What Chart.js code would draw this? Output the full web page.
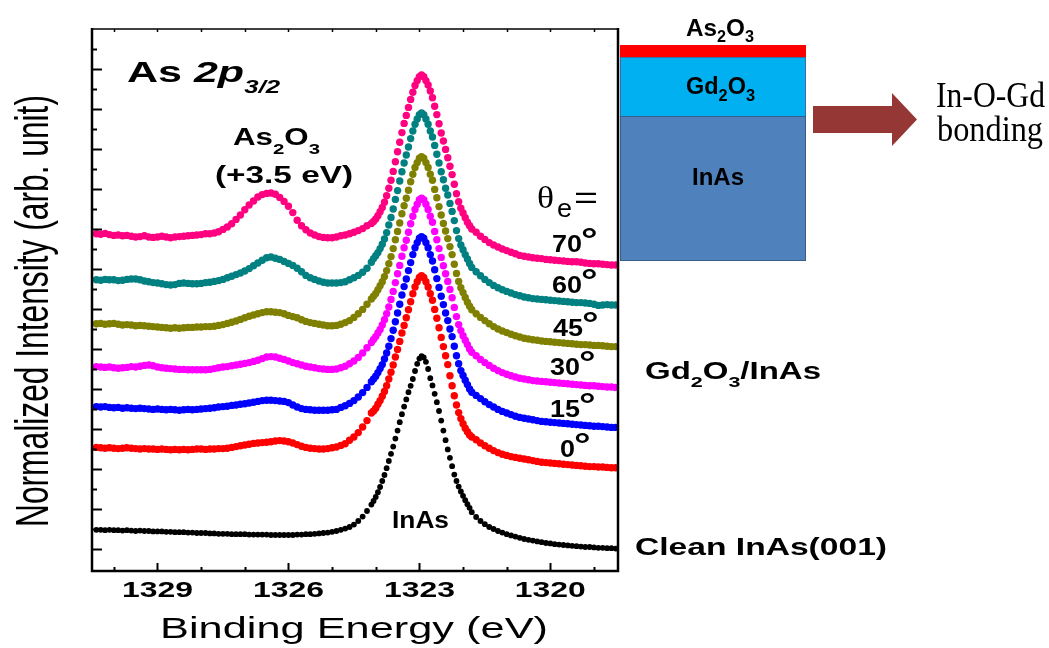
<!DOCTYPE html>
<html>
<head>
<meta charset="utf-8">
<title>As 2p3/2 angle-resolved XPS</title>
<script src="https://cdn.jsdelivr.net/npm/chart.js@4.4.1/dist/chart.umd.min.js"></script>
<style>
  html, body { margin: 0; padding: 0; background: #ffffff; }
  canvas { display: block; }
</style>
</head>
<body>
<canvas id="xps" width="1049" height="648"></canvas>
<script>
// Binding energy grid (eV), high to low: 0.1 eV steps, 0.05 eV across the main peak
const bindingEnergy = [
  1330.4, 1330.3, 1330.2, 1330.1, 1330.0, 1329.9, 1329.8, 1329.7, 1329.6, 1329.5,
  1329.4, 1329.3, 1329.2, 1329.1, 1329.0, 1328.9, 1328.8, 1328.7, 1328.6, 1328.5,
  1328.4, 1328.3, 1328.2, 1328.1, 1328.0, 1327.9, 1327.8, 1327.7, 1327.6, 1327.5,
  1327.4, 1327.3, 1327.2, 1327.1, 1327.0, 1326.9, 1326.8, 1326.7, 1326.6, 1326.5,
  1326.4, 1326.3, 1326.2, 1326.1, 1326.0, 1325.9, 1325.8, 1325.7, 1325.6, 1325.5,
  1325.4, 1325.3, 1325.2, 1325.1, 1325.0, 1324.9, 1324.8, 1324.7, 1324.6, 1324.5,
  1324.4, 1324.3, 1324.2, 1324.1,
  1324.05, 1324.0, 1323.95, 1323.9, 1323.85, 1323.8, 1323.75, 1323.7, 1323.65, 1323.6,
  1323.55, 1323.5, 1323.45, 1323.4, 1323.35, 1323.3, 1323.25, 1323.2, 1323.15, 1323.1,
  1323.05, 1323.0, 1322.95, 1322.9, 1322.85, 1322.8, 1322.75, 1322.7, 1322.65, 1322.6,
  1322.55, 1322.5, 1322.45, 1322.4, 1322.35, 1322.3, 1322.25, 1322.2, 1322.15, 1322.1,
  1322.05, 1322.0, 1321.95, 1321.9, 1321.85,
  1321.8, 1321.7, 1321.6, 1321.5, 1321.4, 1321.3, 1321.2, 1321.1, 1321.0, 1320.9,
  1320.8, 1320.7, 1320.6, 1320.5, 1320.4, 1320.3, 1320.2, 1320.1, 1320.0, 1319.9,
  1319.8, 1319.7, 1319.6, 1319.5, 1319.4, 1319.3, 1319.2, 1319.1, 1319.0, 1318.9,
  1318.8, 1318.7, 1318.6, 1318.5
];

// Normalized intensity (arb. unit), vertically offset per spectrum
const cleanInAs = [
  0.48, 0.48, 0.47, 0.48, 0.47, 0.47, 0.46, 0.47, 0.46, 0.45,
  0.46, 0.45, 0.45, 0.44, 0.44, 0.44, 0.43, 0.43, 0.42, 0.42,
  0.42, 0.41, 0.41, 0.40, 0.40, 0.40, 0.39, 0.39, 0.38, 0.38,
  0.38, 0.37, 0.37, 0.37, 0.37, 0.36, 0.36, 0.36, 0.36, 0.36,
  0.35, 0.35, 0.35, 0.35, 0.35, 0.35, 0.36, 0.36, 0.37, 0.37,
  0.38, 0.39, 0.40, 0.41, 0.43, 0.45, 0.48, 0.51, 0.55, 0.61,
  0.70, 0.81, 0.95, 1.11,
  1.20, 1.30, 1.42, 1.55, 1.70, 1.85, 2.02, 2.20, 2.38, 2.56,
  2.76, 2.96, 3.17, 3.37, 3.56, 3.74, 3.92, 4.08, 4.25, 4.45,
  4.63, 4.76, 4.82, 4.79, 4.68, 4.50, 4.27, 4.09, 3.88, 3.67,
  3.45, 3.21, 2.96, 2.72, 2.49, 2.28, 2.07, 1.86, 1.70, 1.56,
  1.44, 1.33, 1.22, 1.12, 1.03,
  0.92, 0.80, 0.70, 0.62, 0.55, 0.50, 0.45, 0.41, 0.37, 0.34,
  0.31, 0.28, 0.25, 0.23, 0.21, 0.19, 0.17, 0.15, 0.14, 0.12,
  0.11, 0.10, 0.09, 0.08, 0.07, 0.06, 0.05, 0.05, 0.04, 0.03,
  0.03, 0.02, 0.02, 0.01
];

const theta0 = [
  2.54, 2.53, 2.52, 2.53, 2.52, 2.51, 2.52, 2.53, 2.52, 2.51,
  2.50, 2.51, 2.50, 2.50, 2.49, 2.50, 2.49, 2.48, 2.49, 2.48,
  2.49, 2.48, 2.49, 2.50, 2.50, 2.49, 2.50, 2.50, 2.51, 2.51,
  2.52, 2.54, 2.56, 2.58, 2.60, 2.62, 2.64, 2.65, 2.66, 2.67,
  2.68, 2.70, 2.71, 2.70, 2.68, 2.65, 2.61, 2.57, 2.54, 2.52,
  2.51, 2.50, 2.50, 2.51, 2.53, 2.55, 2.59, 2.63, 2.72, 2.80,
  2.91, 3.05, 3.21, 3.40,
  3.45, 3.52, 3.62, 3.71, 3.82, 3.94, 4.08, 4.25, 4.42, 4.60,
  4.80, 4.99, 5.19, 5.40, 5.59, 5.78, 5.98, 6.18, 6.38, 6.55,
  6.68, 6.79, 6.83, 6.79, 6.68, 6.55, 6.38, 6.22, 5.99, 5.77,
  5.53, 5.29, 5.06, 4.83, 4.61, 4.33, 4.08, 3.83, 3.60, 3.41,
  3.26, 3.13, 3.02, 2.93, 2.85,
  2.80, 2.73, 2.65, 2.58, 2.52, 2.46, 2.41, 2.37, 2.34, 2.31,
  2.29, 2.27, 2.25, 2.23, 2.21, 2.19, 2.17, 2.16, 2.15, 2.14,
  2.13, 2.12, 2.11, 2.10, 2.09, 2.08, 2.07, 2.06, 2.06, 2.05,
  2.05, 2.04, 2.03, 2.03
];

const theta15 = [
  3.56, 3.55, 3.56, 3.54, 3.53, 3.54, 3.52, 3.53, 3.52, 3.51,
  3.52, 3.51, 3.50, 3.49, 3.50, 3.49, 3.48, 3.49, 3.48, 3.47,
  3.48, 3.49, 3.48, 3.49, 3.50, 3.51, 3.52, 3.53, 3.55, 3.56,
  3.57, 3.59, 3.60, 3.62, 3.63, 3.65, 3.67, 3.69, 3.71, 3.72,
  3.72, 3.71, 3.70, 3.69, 3.66, 3.60, 3.55, 3.51, 3.49, 3.48,
  3.47, 3.47, 3.47, 3.47, 3.48, 3.49, 3.54, 3.58, 3.64, 3.71,
  3.80, 3.91, 4.04, 4.18,
  4.25, 4.32, 4.41, 4.51, 4.61, 4.75, 4.90, 5.07, 5.26, 5.47,
  5.68, 5.90, 6.12, 6.35, 6.56, 6.75, 6.96, 7.16, 7.36, 7.53,
  7.66, 7.77, 7.81, 7.77, 7.66, 7.53, 7.36, 7.20, 6.98, 6.76,
  6.54, 6.32, 6.11, 5.90, 5.71, 5.50, 5.31, 5.07, 4.83, 4.63,
  4.46, 4.34, 4.22, 4.11, 4.00,
  3.92, 3.84, 3.76, 3.68, 3.61, 3.55, 3.49, 3.44, 3.40, 3.36,
  3.32, 3.29, 3.27, 3.25, 3.23, 3.21, 3.19, 3.18, 3.17, 3.16,
  3.15, 3.14, 3.13, 3.12, 3.11, 3.10, 3.09, 3.08, 3.07, 3.07,
  3.06, 3.05, 3.04, 3.04
];

const theta30 = [
  4.56, 4.55, 4.54, 4.55, 4.53, 4.52, 4.53, 4.54, 4.56, 4.55,
  4.57, 4.59, 4.60, 4.58, 4.55, 4.53, 4.52, 4.51, 4.50, 4.49,
  4.49, 4.48, 4.48, 4.48, 4.48, 4.48, 4.49, 4.51, 4.53, 4.55,
  4.56, 4.58, 4.60, 4.62, 4.64, 4.66, 4.69, 4.72, 4.76, 4.80,
  4.81, 4.80, 4.77, 4.74, 4.70, 4.66, 4.63, 4.60, 4.57, 4.55,
  4.53, 4.51, 4.50, 4.49, 4.49, 4.50, 4.53, 4.57, 4.63, 4.70,
  4.79, 4.90, 5.03, 5.16,
  5.24, 5.31, 5.40, 5.49, 5.60, 5.73, 5.88, 6.05, 6.24, 6.44,
  6.66, 6.88, 7.09, 7.32, 7.53, 7.72, 7.92, 8.13, 8.32, 8.49,
  8.62, 8.73, 8.77, 8.73, 8.62, 8.49, 8.32, 8.17, 7.94, 7.73,
  7.51, 7.29, 7.08, 6.88, 6.69, 6.49, 6.28, 6.04, 5.81, 5.61,
  5.46, 5.33, 5.22, 5.11, 5.00,
  4.92, 4.83, 4.74, 4.66, 4.59, 4.52, 4.46, 4.41, 4.37, 4.33,
  4.30, 4.27, 4.25, 4.23, 4.21, 4.20, 4.19, 4.18, 4.17, 4.16,
  4.15, 4.14, 4.13, 4.12, 4.11, 4.10, 4.09, 4.08, 4.08, 4.07,
  4.06, 4.05, 4.05, 4.04
];

const theta45 = [
  5.63, 5.64, 5.62, 5.63, 5.64, 5.62, 5.60, 5.61, 5.60, 5.58,
  5.59, 5.58, 5.57, 5.56, 5.55, 5.54, 5.53, 5.52, 5.53, 5.52,
  5.53, 5.54, 5.54, 5.55, 5.55, 5.56, 5.56, 5.57, 5.59, 5.61,
  5.64, 5.67, 5.70, 5.74, 5.78, 5.82, 5.85, 5.88, 5.91, 5.93,
  5.93, 5.92, 5.91, 5.88, 5.84, 5.81, 5.78, 5.73, 5.69, 5.66,
  5.64, 5.62, 5.60, 5.58, 5.58, 5.59, 5.62, 5.66, 5.71, 5.79,
  5.88, 5.99, 6.12, 6.25,
  6.32, 6.39, 6.48, 6.58, 6.68, 6.81, 6.96, 7.13, 7.31, 7.51,
  7.73, 7.94, 8.15, 8.38, 8.58, 8.77, 8.97, 9.18, 9.37, 9.54,
  9.66, 9.77, 9.81, 9.77, 9.66, 9.54, 9.37, 9.22, 8.99, 8.78,
  8.56, 8.35, 8.14, 7.95, 7.76, 7.56, 7.36, 7.12, 6.89, 6.69,
  6.53, 6.41, 6.29, 6.17, 6.07,
  5.98, 5.88, 5.79, 5.71, 5.63, 5.56, 5.50, 5.45, 5.41, 5.37,
  5.33, 5.30, 5.27, 5.25, 5.23, 5.22, 5.20, 5.19, 5.18, 5.17,
  5.16, 5.15, 5.14, 5.13, 5.12, 5.11, 5.11, 5.10, 5.09, 5.09,
  5.08, 5.07, 5.06, 5.06
];

const theta60 = [
  6.73, 6.72, 6.74, 6.73, 6.73, 6.71, 6.72, 6.74, 6.75, 6.75,
  6.73, 6.70, 6.68, 6.66, 6.65, 6.63, 6.61, 6.60, 6.61, 6.64,
  6.65, 6.64, 6.63, 6.63, 6.64, 6.66, 6.67, 6.69, 6.71, 6.74,
  6.78, 6.82, 6.86, 6.90, 6.95, 7.01, 7.08, 7.15, 7.22, 7.28,
  7.30, 7.27, 7.24, 7.19, 7.14, 7.09, 7.02, 6.93, 6.84, 6.78,
  6.74, 6.70, 6.67, 6.65, 6.65, 6.65, 6.66, 6.68, 6.73, 6.78,
  6.84, 6.92, 7.02, 7.17,
  7.26, 7.33, 7.41, 7.51, 7.62, 7.75, 7.91, 8.10, 8.29, 8.50,
  8.74, 8.96, 9.20, 9.43, 9.65, 9.85, 10.05, 10.26, 10.45, 10.62,
  10.75, 10.86, 10.90, 10.86, 10.75, 10.62, 10.45, 10.30, 10.09, 9.87,
  9.65, 9.43, 9.23, 9.02, 8.85, 8.64, 8.44, 8.21, 7.96, 7.76,
  7.60, 7.48, 7.36, 7.25, 7.14,
  7.04, 6.93, 6.83, 6.74, 6.66, 6.59, 6.53, 6.48, 6.44, 6.40,
  6.36, 6.33, 6.30, 6.28, 6.26, 6.25, 6.24, 6.23, 6.22, 6.21,
  6.20, 6.19, 6.18, 6.17, 6.16, 6.16, 6.15, 6.14, 6.12, 6.09,
  6.10, 6.11, 6.10, 6.10
];

const theta70 = [
  7.88, 7.87, 7.89, 7.86, 7.84, 7.85, 7.83, 7.84, 7.82, 7.80,
  7.81, 7.83, 7.80, 7.79, 7.80, 7.82, 7.80, 7.78, 7.80, 7.81,
  7.82, 7.83, 7.84, 7.85, 7.86, 7.88, 7.88, 7.90, 7.93, 7.99,
  8.05, 8.13, 8.24, 8.35, 8.48, 8.60, 8.70, 8.80, 8.86, 8.89,
  8.90, 8.87, 8.79, 8.69, 8.57, 8.41, 8.22, 8.08, 7.98, 7.90,
  7.85, 7.81, 7.79, 7.78, 7.78, 7.80, 7.83, 7.85, 7.88, 7.92,
  7.96, 8.01, 8.08, 8.14,
  8.19, 8.25, 8.33, 8.43, 8.54, 8.67, 8.83, 9.02, 9.22, 9.44,
  9.68, 9.93, 10.17, 10.41, 10.64, 10.84, 11.04, 11.24, 11.42, 11.59,
  11.71, 11.81, 11.85, 11.81, 11.71, 11.60, 11.45, 11.28, 11.07, 10.86,
  10.63, 10.40, 10.20, 9.99, 9.78, 9.57, 9.36, 9.12, 8.88, 8.68,
  8.52, 8.40, 8.28, 8.17, 8.08,
  8.00, 7.92, 7.82, 7.74, 7.66, 7.60, 7.55, 7.50, 7.46, 7.42,
  7.38, 7.34, 7.32, 7.30, 7.28, 7.27, 7.26, 7.24, 7.23, 7.22,
  7.21, 7.20, 7.19, 7.18, 7.18, 7.17, 7.15, 7.14, 7.13, 7.13,
  7.12, 7.11, 7.10, 7.10
];

// Emission angles and the labelled energy ticks
const angleLabels = ['0', '15', '30', '45', '60', '70'];
const energyTicks = [1329, 1326, 1323, 1320];

const SANS = "'Liberation Sans', Arial, Helvetica, sans-serif";
const SERIF = "'Liberation Serif', 'Times New Roman', serif";

const spectra = [
  { label: 'θe = 70°', values: theta70, color: '#ff0080' },
  { label: 'θe = 60°', values: theta60, color: '#008080' },
  { label: 'θe = 45°', values: theta45, color: '#808000' },
  { label: 'θe = 30°', values: theta30, color: '#ff00ff' },
  { label: 'θe = 15°', values: theta15, color: '#0000ff' },
  { label: 'θe = 0°', values: theta0, color: '#ff0000' },
  { label: 'Clean InAs(001)', values: cleanInAs, color: '#000000' }
];

const datasets = spectra.map((s, k) => ({
  label: s.label,
  data: bindingEnergy.map((e, i) => ({ x: e, y: s.values[i] })),
  backgroundColor: s.color,
  borderColor: s.color,
  borderWidth: 0,
  pointRadius: s.color === '#000000' ? 2.9 : 3.7,
  pointHoverRadius: 0,
  showLine: false,
  order: k
}));

// ---------- text helpers ----------
function runWidth(ctx, parts) {
  let w = 0;
  for (const p of parts) { ctx.font = p.font; w += ctx.measureText(p.t).width; }
  return w;
}
// Draws a run of text pieces (with optional sub/superscript offsets),
// horizontally scaled either by sx or to fill width w.
function drawRun(ctx, parts, x, base, opt) {
  opt = opt || {};
  const nat = runWidth(ctx, parts);
  const sx = opt.w ? opt.w / nat : (opt.sx || 1);
  ctx.save();
  ctx.translate(x, base);
  ctx.scale(sx, 1);
  let cx = opt.align === 'center' ? -nat / 2 : 0;
  ctx.textAlign = 'left';
  ctx.textBaseline = 'alphabetic';
  ctx.fillStyle = opt.color || '#000';
  for (const p of parts) {
    ctx.font = p.font;
    ctx.fillText(p.t, cx, p.dy || 0);
    cx += ctx.measureText(p.t).width;
  }
  ctx.restore();
}
const bold = (px) => `bold ${px}px ${SANS}`;
const boldIt = (px) => `italic bold ${px}px ${SANS}`;
const reg = (px) => `${px}px ${SANS}`;

// ---------- axes frame with inward ticks ----------
const framePlugin = {
  id: 'frame',
  afterDatasetsDraw(chart) {
    const { ctx, chartArea: a, scales: { x, y } } = chart;
    ctx.save();
    ctx.strokeStyle = '#000';
    ctx.lineCap = 'butt';
    // energy ticks every 1 eV (bottom: long at labelled values; top: short)
    for (let e = 1319; e <= 1330; e++) {
      const px = Math.round(x.getPixelForValue(e)) + 0.5;
      const len = energyTicks.includes(e) ? 8 : 4;
      ctx.lineWidth = 2;
      ctx.beginPath();
      ctx.moveTo(px, a.bottom);
      ctx.lineTo(px, a.bottom - len);
      ctx.stroke();
      ctx.lineWidth = 1.5;
      ctx.beginPath();
      ctx.moveTo(px, a.top);
      ctx.lineTo(px, a.top + 3);
      ctx.stroke();
    }
    // intensity ticks every 0.5 unit, long at whole units
    ctx.lineWidth = 2;
    for (let v = 0; v <= 12.5; v += 0.5) {
      const py = Math.round(y.getPixelForValue(v)) + 0.5;
      const len = Number.isInteger(v) ? 10 : 5;
      ctx.beginPath();
      ctx.moveTo(a.left, py);
      ctx.lineTo(a.left + len, py);
      ctx.stroke();
    }
    // box
    ctx.lineWidth = 1.5;
    ctx.beginPath();
    ctx.moveTo(a.left, a.top);
    ctx.lineTo(a.right, a.top);
    ctx.stroke();
    ctx.lineWidth = 2.5;
    ctx.beginPath();
    ctx.moveTo(a.left, a.top - 1);
    ctx.lineTo(a.left, a.bottom);
    ctx.lineTo(a.right, a.bottom);
    ctx.lineTo(a.right, a.top - 1);
    ctx.stroke();

    // energy tick labels
    for (const e of energyTicks) {
      drawRun(ctx, [{ t: String(e), font: bold(22) }], x.getPixelForValue(e), 597, { sx: 1.45, align: 'center' });
    }
    ctx.restore();
  }
};

// ---------- titles, labels and layer sketch ----------
const labelPlugin = {
  id: 'labels',
  afterDraw(chart) {
    const { ctx } = chart;
    ctx.save();

    // axis titles
    drawRun(ctx, [{ t: 'Binding Energy (eV)', font: reg(30) }], 354, 638, { w: 388, align: 'center' });
    ctx.save();
    ctx.translate(34, 311);
    ctx.scale(1.5, 1);
    ctx.rotate(-Math.PI / 2);
    ctx.font = reg(31);
    const yt = 'Normalized Intensity (arb. unit)';
    const ys = 432 / ctx.measureText(yt).width;
    ctx.scale(ys, 1);
    ctx.fillStyle = '#000';
    ctx.textAlign = 'center';
    ctx.textBaseline = 'alphabetic';
    ctx.fillText(yt, 0, 9);
    ctx.restore();

    // core level
    drawRun(ctx, [
      { t: 'As ', font: bold(30) },
      { t: '2p', font: boldIt(30) },
      { t: '3/2', font: boldIt(18), dy: 11 }
    ], 127, 82, { w: 153 });

    // oxide component
    drawRun(ctx, [
      { t: 'As', font: bold(23) },
      { t: '2', font: bold(15), dy: 9 },
      { t: 'O', font: bold(23) },
      { t: '3', font: bold(15), dy: 9 }
    ], 233, 145, { w: 87 });
    drawRun(ctx, [{ t: '(+3.5 eV)', font: bold(23) }], 215, 183, { w: 138 });

    // bulk component
    drawRun(ctx, [{ t: 'InAs', font: bold(24) }], 392, 528, { w: 57 });

    // emission angle legend
    drawRun(ctx, [{ t: 'θ', font: `31px ${SERIF}` }], 537, 208, { w: 17 });
    drawRun(ctx, [{ t: 'e', font: reg(26) }], 557, 217, { w: 15 });
    drawRun(ctx, [{ t: '=', font: reg(32) }], 574, 208, { w: 24 });

    const angleBase = [457, 417, 375, 336, 293, 252];
    const angleX = [560, 550, 550, 553, 552, 552];
    angleLabels.forEach((a, i) => {
      const w = a.length === 1 ? 15 : 30;
      drawRun(ctx, [{ t: a, font: bold(24) }], angleX[i], angleBase[i], { w });
      drawRun(ctx, [{ t: '°', font: bold(32) }], angleX[i] + w - 1, angleBase[i] - 2, { sx: 1.3 });
    });

    drawRun(ctx, [
      { t: 'Gd', font: bold(23) },
      { t: '2', font: bold(15), dy: 8 },
      { t: 'O', font: bold(23) },
      { t: '3', font: bold(15), dy: 8 },
      { t: '/InAs', font: bold(23) }
    ], 645, 379, { w: 176 });
    drawRun(ctx, [{ t: 'Clean InAs(001)', font: bold(24.5) }], 635, 555, { w: 252 });

    // layer stack sketch
    ctx.fillStyle = '#ff0000';
    ctx.fillRect(620, 45, 186, 12.5);
    ctx.fillStyle = '#00b0f0';
    ctx.fillRect(620, 57.5, 186, 59);
    ctx.strokeStyle = '#3d6fa5';
    ctx.lineWidth = 1;
    ctx.strokeRect(620.5, 57.5, 185, 59);
    ctx.fillStyle = '#4f81bd';
    ctx.fillRect(620, 116.5, 186, 144);
    ctx.strokeStyle = '#385d8a';
    ctx.strokeRect(620.5, 116.5, 185, 144);

    drawRun(ctx, [
      { t: 'As', font: bold(24) },
      { t: '2', font: bold(16), dy: 6 },
      { t: 'O', font: bold(24) },
      { t: '3', font: bold(16), dy: 6 }
    ], 686, 36, { w: 68 });
    drawRun(ctx, [
      { t: 'Gd', font: bold(23) },
      { t: '2', font: bold(16), dy: 7 },
      { t: 'O', font: bold(23) },
      { t: '3', font: bold(16), dy: 7 }
    ], 686, 94, { w: 69 });
    drawRun(ctx, [{ t: 'InAs', font: bold(24) }], 692, 185, { w: 52 });

    ctx.fillStyle = '#953735';
    ctx.beginPath();
    ctx.moveTo(813, 106);
    ctx.lineTo(892, 106);
    ctx.lineTo(892, 93);
    ctx.lineTo(917, 119.5);
    ctx.lineTo(892, 146);
    ctx.lineTo(892, 133);
    ctx.lineTo(813, 133);
    ctx.closePath();
    ctx.fill();

    drawRun(ctx, [{ t: 'In-O-Gd', font: `35px ${SERIF}` }], 936, 107, { w: 109 });
    drawRun(ctx, [{ t: 'bonding', font: `35px ${SERIF}` }], 937, 141, { w: 106 });

    ctx.restore();
  }
};

new Chart(document.getElementById('xps'), {
  type: 'scatter',
  data: { datasets },
  options: {
    responsive: false,
    animation: false,
    devicePixelRatio: 1,
    layout: { padding: { left: 92, right: 431, top: 29, bottom: 77 } },
    plugins: { legend: { display: false }, tooltip: { enabled: false } },
    events: [],
    scales: {
      x: { type: 'linear', min: 1318.45, max: 1330.5, reverse: true, display: false },
      y: { type: 'linear', min: -0.55, max: 13.0, display: false }
    }
  },
  plugins: [framePlugin, labelPlugin]
});
</script>
</body>
</html>
